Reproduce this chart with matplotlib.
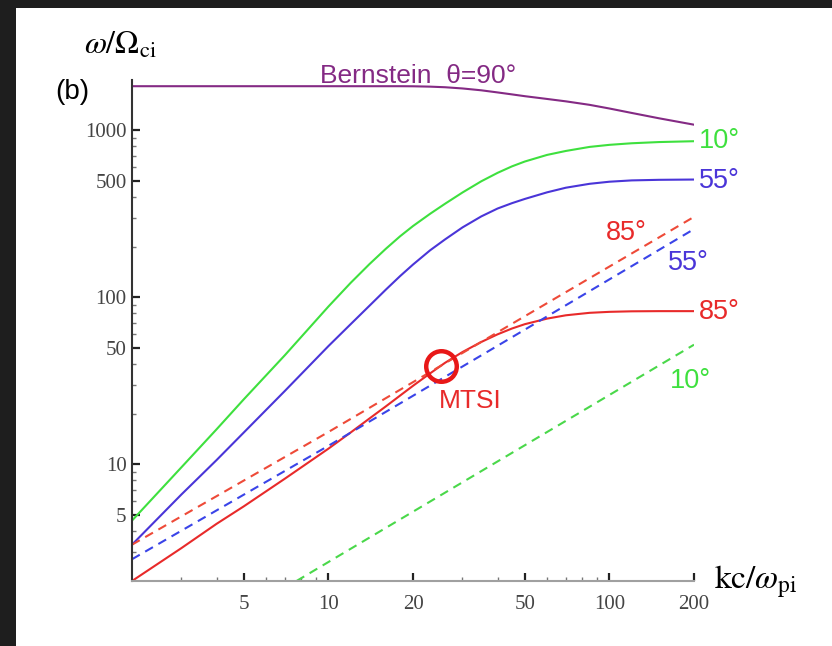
import matplotlib
matplotlib.use("Agg")
import matplotlib.pyplot as plt
from matplotlib.patches import Rectangle

plt.rcParams['font.family'] = ['Liberation Sans', 'DejaVu Sans']
plt.rcParams['mathtext.fontset'] = 'stix'

# wavenumber kc/omega_pi and frequency omega/Omega_ci of each branch
k_solid = [2, 3, 4, 5, 7, 10, 12, 14, 16, 18, 20, 23, 26, 30, 35, 40, 45, 50, 60, 70, 85, 100, 120, 150, 200]
w_bernstein_90 = [1836, 1836, 1836, 1836, 1836, 1836, 1836, 1836, 1836, 1836, 1834, 1825, 1810, 1780, 1735,
                  1685, 1640, 1600, 1540, 1490, 1420, 1350, 1270, 1180, 1080]
w_solid_10 = [4.6, 9.6, 16.2, 24.5, 45, 88, 122, 158, 195, 232, 267, 316, 363, 424, 495,
              556, 608, 650, 712, 752, 795, 818, 836, 850, 860]
w_solid_55 = [3.3, 6.6, 10.6, 15.5, 27.5, 51, 69, 89, 111, 134, 157, 191, 222, 262, 305,
              340, 366, 388, 425, 453, 478, 492, 501, 505, 507]
w_solid_85 = [2.0, 3.15, 4.4, 5.6, 8.2, 12.4, 15.5, 18.8, 22.2, 25.8, 29.5, 35, 40.5, 47, 54,
              60, 65, 69, 74.5, 78, 80.7, 81.8, 82.4, 82.6, 82.6]

k_dashed = [2, 10, 50, 200]
w_dashed_85 = [3.3, 15.6, 77, 303]
w_dashed_55 = [2.7, 12.9, 64, 256]
k_dashed_10 = [7.7, 20, 50, 200]
w_dashed_10 = [2.0, 5.2, 13, 52]

# modified two-stream instability crossing
k_mtsi = [25.2]
w_mtsi = [38.7]

x_ticks = [5, 10, 20, 50, 100, 200]
y_ticks = [5, 10, 50, 100, 500, 1000]

W, H = 832, 646


def fpos(x, y):
    return x / W, 1 - y / H


fig = plt.figure(figsize=(W / 100, H / 100), dpi=100, facecolor='#1e1e1e')
fig.add_artist(Rectangle((16 / W, 0), 1, 1 - 8 / H, transform=fig.transFigure,
                         facecolor='white', edgecolor='none', zorder=-10))

ax = fig.add_axes([132 / W, 1 - 581 / H, (694 - 132) / W, (581 - 80) / H])
ax.patch.set_alpha(0)
ax.set_xscale('log')
ax.set_yscale('log')

green = '#3ee03e'
blue = '#4a35d8'
red = '#e82a2a'
purple = '#842a84'
lw = 1.5
dash = (4.3, 3.0)

ax.plot(k_solid, w_bernstein_90, color=purple, lw=lw)
ax.plot(k_solid, w_solid_10, color=green, lw=lw)
ax.plot(k_solid, w_solid_55, color=blue, lw=lw)
ax.plot(k_solid, w_solid_85, color=red, lw=lw)
ax.plot(k_dashed, w_dashed_85, color='#ee4a38', lw=lw, dashes=dash)
ax.plot(k_dashed, w_dashed_55, color='#3a44e8', lw=lw, dashes=dash)
ax.plot(k_dashed_10, w_dashed_10, color='#4ad84a', lw=lw, dashes=dash)
ax.plot(k_mtsi, w_mtsi, 'o', ms=22, mfc='none', mec='#e81818', mew=3.2)

ax.set_xlim(2, 200)
ax.set_ylim(2, 2000)

for s in ['top', 'right']:
    ax.spines[s].set_visible(False)
ax.spines['left'].set_color('#333333')
ax.spines['left'].set_linewidth(1.5)
ax.spines['bottom'].set_color('#a0a0a0')
ax.spines['bottom'].set_linewidth(1.5)

ax.set_xticks(x_ticks)
ax.set_xticklabels([str(t) for t in x_ticks], fontfamily='Liberation Serif', fontsize=15, color='#444444')
ax.set_xticks([3, 4, 6, 7, 8, 9, 30, 40, 60, 70, 80, 90], minor=True)
ax.set_xticklabels([], minor=True)
ax.set_yticks(y_ticks)
ax.set_yticklabels([str(t) for t in y_ticks], fontfamily='Liberation Serif', fontsize=15, color='#444444')
ax.set_yticks([3, 4, 6, 7, 8, 9, 20, 30, 40, 60, 70, 80, 90,
               200, 300, 400, 600, 700, 800, 900], minor=True)
ax.set_yticklabels([], minor=True)
ax.tick_params(which='major', direction='in', length=6, width=1.6, color='#222222')
ax.tick_params(which='minor', direction='in', length=3, width=1, color='#777777')
ax.tick_params(axis='x', which='major', pad=10)
ax.tick_params(axis='y', which='major', pad=4)

# axis titles and branch labels
fig.text(*fpos(120, 46), r'$\omega/\Omega_{\rm ci}$', fontsize=23, ha='center', va='center')
fig.text(*fpos(714, 582), r'${\rm kc}/\omega_{\rm pi}$', fontsize=24, ha='left', va='center')
fig.text(*fpos(72, 92), '(b)', fontsize=20, ha='center', va='center')
fig.text(*fpos(320, 76), 'Bernstein  θ=90°', fontsize=19, color=purple, ha='left', va='center')
fig.text(*fpos(699, 141), '10°', fontsize=19.5, color=green, ha='left', va='center')
fig.text(*fpos(699, 181), '55°', fontsize=19.5, color=blue, ha='left', va='center')
fig.text(*fpos(606, 233), '85°', fontsize=19.5, color=red, ha='left', va='center')
fig.text(*fpos(668, 263), '55°', fontsize=19.5, color=blue, ha='left', va='center')
fig.text(*fpos(699, 312), '85°', fontsize=19.5, color=red, ha='left', va='center')
fig.text(*fpos(670, 381), '10°', fontsize=19.5, color=green, ha='left', va='center')
fig.text(*fpos(439, 401), 'MTSI', fontsize=19, color=red, ha='left', va='center')

fig.savefig('out.png', dpi=100, facecolor=fig.get_facecolor())
